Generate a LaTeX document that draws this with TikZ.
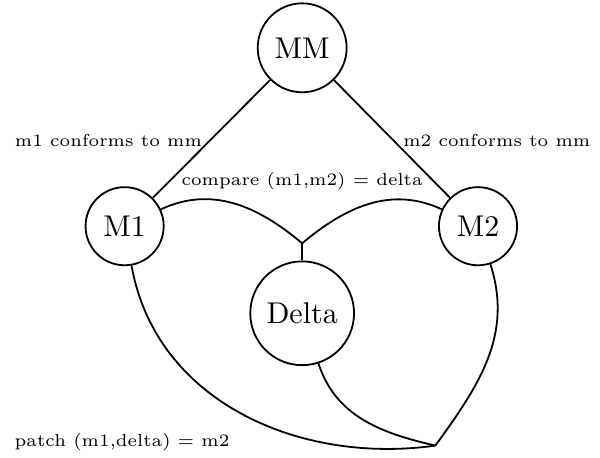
\documentclass[tikz,border=0pt]{standalone}
\usepackage{tikz}
\usetikzlibrary{arrows.meta}
\usepackage{amsmath}
\usepackage{xcolor}

\begin{document}
\begin{tikzpicture}[semithick]
                \useasboundingbox (0,0) rectangle (7.029,-5.354);
                \tikzset{model/.style={draw, circle, inner sep=3.8pt}, lbl/.style={font=\fontsize{5.8}{7}\selectfont}}

                % models
                \node[model] (mm) at (3.54,-0.56) {MM};
                \node[model] (m1) at (1.46,-2.65) {M1};
                \node[model] (m2) at (5.60,-2.65) {M2};
                \node[model] (delta) at (3.54,-3.67) {Delta};

                % hyperedge joints
                \coordinate (cmp) at (3.54,-2.85);
                \coordinate (pat) at (5.10,-5.22);

                % conformance
                \draw (mm) -- (m1);
                \draw (mm) -- (m2);
                \node[lbl] (c1) at (1.27,-1.64) {m1 conforms to mm};
                \node[lbl] (c2) at (5.82,-1.64) {m2 conforms to mm};

                % compare
                \draw (m1) to[out=25,in=140] (cmp);
                \draw (m2) to[out=155,in=40] (cmp);
                \draw (cmp) -- (delta);
                \node[lbl] (cl) at (3.54,-2.12) {compare (m1,m2) = delta};

                % patch
                \draw (m1) to[out=-80,in=188] (pat);
                \draw (delta) to[out=-72,in=167] (pat);
                \draw (m2) to[out=-72,in=54] (pat);
                \node[lbl] (pl) at (1.43,-5.18) {patch (m1,delta) = m2};

            \end{tikzpicture}
\end{document}
